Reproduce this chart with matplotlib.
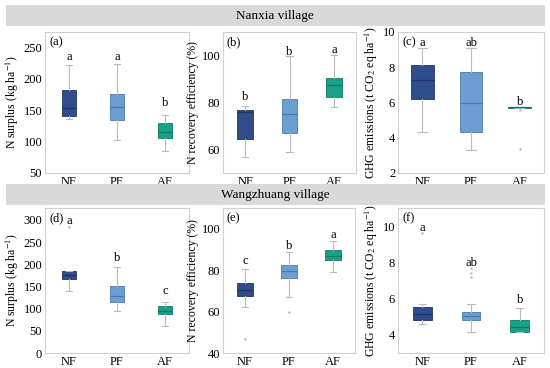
import matplotlib
matplotlib.use("Agg")
import matplotlib.pyplot as plt
from matplotlib.patches import Rectangle

plt.rcParams['font.family'] = ['Liberation Serif', 'DejaVu Serif']
plt.rcParams['mathtext.fontset'] = 'stix'

groups = ["NF", "PF", "AF"]
colors = ["#2F4C8B", "#6C9ED4", "#19A088"]
medcolors = ["#1F3568", "#4B78AE", "#0C7A64"]

# Panel (a) N surplus, Nanxia
a_q1 = [140.5, 134, 105]; a_med = [153, 155, 115]; a_q3 = [182, 175, 129]
a_lo = [136, 102, 85]; a_hi = [221, 223, 142]; a_fl = [[], [], []]
a_let = ["a", "a", "b"]; a_lety = [234, 234, 161]
# Panel (b) N recovery efficiency, Nanxia
b_q1 = [64.3, 66.9, 82.3]; b_med = [75.9, 75.2, 87.4]; b_q3 = [77.0, 81.4, 90.5]
b_lo = [56.6, 59.1, 78.0]; b_hi = [78.7, 99.6, 100.4]; b_fl = [[], [], []]
b_let = ["b", "b", "a"]; b_lety = [82.3, 101.4, 102.4]
# Panel (c) GHG emissions, Nanxia
c_q1 = [6.19, 4.35, 5.70]; c_med = [7.25, 5.95, 5.72]; c_q3 = [8.1, 7.75, 5.75]
c_lo = [4.3, 3.3, 5.70]; c_hi = [9.1, 9.1, 5.75]; c_fl = [[], [], [5.55, 3.36]]
c_let = ["a", "ab", "b"]; c_lety = [9.35, 9.35, 6.05]
# Panel (d) N surplus, Wangzhuang
d_q1 = [166, 114, 87.5]; d_med = [176, 128, 95]; d_q3 = [185, 151, 105.6]
d_lo = [139.5, 95, 62]; d_hi = [186, 193, 114.6]; d_fl = [[285], [], []]
d_let = ["a", "b", "c"]; d_lety = [298, 215, 139.5]
# Panel (e) N recovery efficiency, Wangzhuang
e_q1 = [67.4, 76.4, 85.0]; e_med = [70.6, 79.8, 87.0]; e_q3 = [73.9, 82.7, 89.5]
e_lo = [62.1, 67.1, 79.0]; e_hi = [80.6, 88.7, 94.3]; e_fl = [[46.6], [59.6], []]
e_let = ["c", "b", "a"]; e_lety = [84.2, 91.6, 97.0]
# Panel (f) GHG emissions, Wangzhuang
f_q1 = [4.82, 4.82, 4.18]; f_med = [5.15, 5.06, 4.46]; f_q3 = [5.53, 5.28, 4.82]
f_lo = [4.6, 4.18, 4.18]; f_hi = [5.72, 5.68, 5.47]; f_fl = [[9.62], [7.67, 7.39, 7.2], []]
f_let = ["a", "ab", "b"]; f_lety = [9.9, 7.98, 5.95]

ylab_ns = "N surplus (kg ha$^{-1}$)"
ylab_nre = "N recovery efficiency (%)"
ylab_ghg = "GHG emissions (t CO$_2$ eq ha$^{-1}$)"

W, H = 550, 368
fig = plt.figure(figsize=(5.5, 3.68), dpi=100)

def px_axes(l, r, t, b):
    return fig.add_axes([l / W, 1 - b / H, (r - l) / W, (b - t) / H])

panels = [
    dict(box=(45, 189, 32, 173), q1=a_q1, med=a_med, q3=a_q3, lo=a_lo, hi=a_hi, fl=a_fl,
         let=a_let, lety=a_lety, ylim=(50, 274), yt=[50, 100, 150, 200, 250], yl=ylab_ns, tag="(a)", w=0.31),
    dict(box=(223, 356, 32, 173), q1=b_q1, med=b_med, q3=b_q3, lo=b_lo, hi=b_hi, fl=b_fl,
         let=b_let, lety=b_lety, ylim=(50, 110), yt=[60, 80, 100], yl=ylab_nre, tag="(b)", w=0.36),
    dict(box=(398, 544, 32, 173), q1=c_q1, med=c_med, q3=c_q3, lo=c_lo, hi=c_hi, fl=c_fl,
         let=c_let, lety=c_lety, ylim=(2, 10), yt=[2, 4, 6, 8, 10], yl=ylab_ghg, tag="(c)", w=0.47),
    dict(box=(45, 189, 208, 353), q1=d_q1, med=d_med, q3=d_q3, lo=d_lo, hi=d_hi, fl=d_fl,
         let=d_let, lety=d_lety, ylim=(0, 327), yt=[0, 50, 100, 150, 200, 250, 300], yl=ylab_ns, tag="(d)", w=0.31),
    dict(box=(223, 355, 208, 353), q1=e_q1, med=e_med, q3=e_q3, lo=e_lo, hi=e_hi, fl=e_fl,
         let=e_let, lety=e_lety, ylim=(40, 110), yt=[40, 60, 80, 100], yl=ylab_nre, tag="(e)", w=0.36),
    dict(box=(398, 544, 208, 353), q1=f_q1, med=f_med, q3=f_q3, lo=f_lo, hi=f_hi, fl=f_fl,
         let=f_let, lety=f_lety, ylim=(3, 11), yt=[4, 6, 8, 10], yl=ylab_ghg, tag="(f)", w=0.39),
]

for p in panels:
    ax = px_axes(*p["box"])
    stats = []
    for i in range(3):
        stats.append(dict(q1=p["q1"][i], med=p["med"][i], q3=p["q3"][i],
                          whislo=p["lo"][i], whishi=p["hi"][i], fliers=p["fl"][i]))
    bp = ax.bxp(stats, positions=[1, 2, 3], widths=p["w"], capwidths=p["w"] * 0.4,
                patch_artist=True, showfliers=True,
                whiskerprops=dict(color="#BBBBBB", linewidth=0.8),
                capprops=dict(color="#BBBBBB", linewidth=0.8),
                flierprops=dict(marker='.', markersize=1.5, markerfacecolor="#B8B8B8",
                                markeredgecolor="#B8B8B8", linestyle='none'),
                manage_ticks=False)
    for i, patch in enumerate(bp['boxes']):
        patch.set_facecolor(colors[i])
        patch.set_edgecolor(medcolors[i])
        patch.set_linewidth(0.6)
    for i, m in enumerate(bp['medians']):
        m.set_color(medcolors[i])
        m.set_linewidth(0.9)
    ax.set_xlim(0.5, 3.5)
    ax.set_ylim(*p["ylim"])
    ax.set_xticks([1, 2, 3])
    ax.set_xticklabels(groups, fontsize=9)
    ax.set_yticks(p["yt"])
    ax.tick_params(axis='both', length=0, labelsize=9, pad=2)
    ax.set_ylabel(p["yl"], fontsize=8.5, labelpad=2)
    for s in ax.spines.values():
        s.set_color("#D0D0D0")
        s.set_linewidth(0.8)
    for i in range(3):
        ax.text(i + 1, p["lety"][i], p["let"][i], ha='center', va='center', fontsize=9)
    ax.text(0.03, 0.93, p["tag"], transform=ax.transAxes, ha='left', va='center', fontsize=9)

# banners
for (t, b, label) in [(5, 26, "Nanxia village"), (184, 205, "Wangzhuang village")]:
    rect = Rectangle((6 / W, 1 - b / H), 539 / W, (b - t) / H, transform=fig.transFigure,
                     facecolor="#D9D9D9", edgecolor='none', zorder=10)
    fig.add_artist(rect)
    fig.text(275 / W, 1 - (t + b) / 2 / H, label, ha='center', va='center', fontsize=9.5, zorder=11)

fig.savefig("out.png", dpi=100)
